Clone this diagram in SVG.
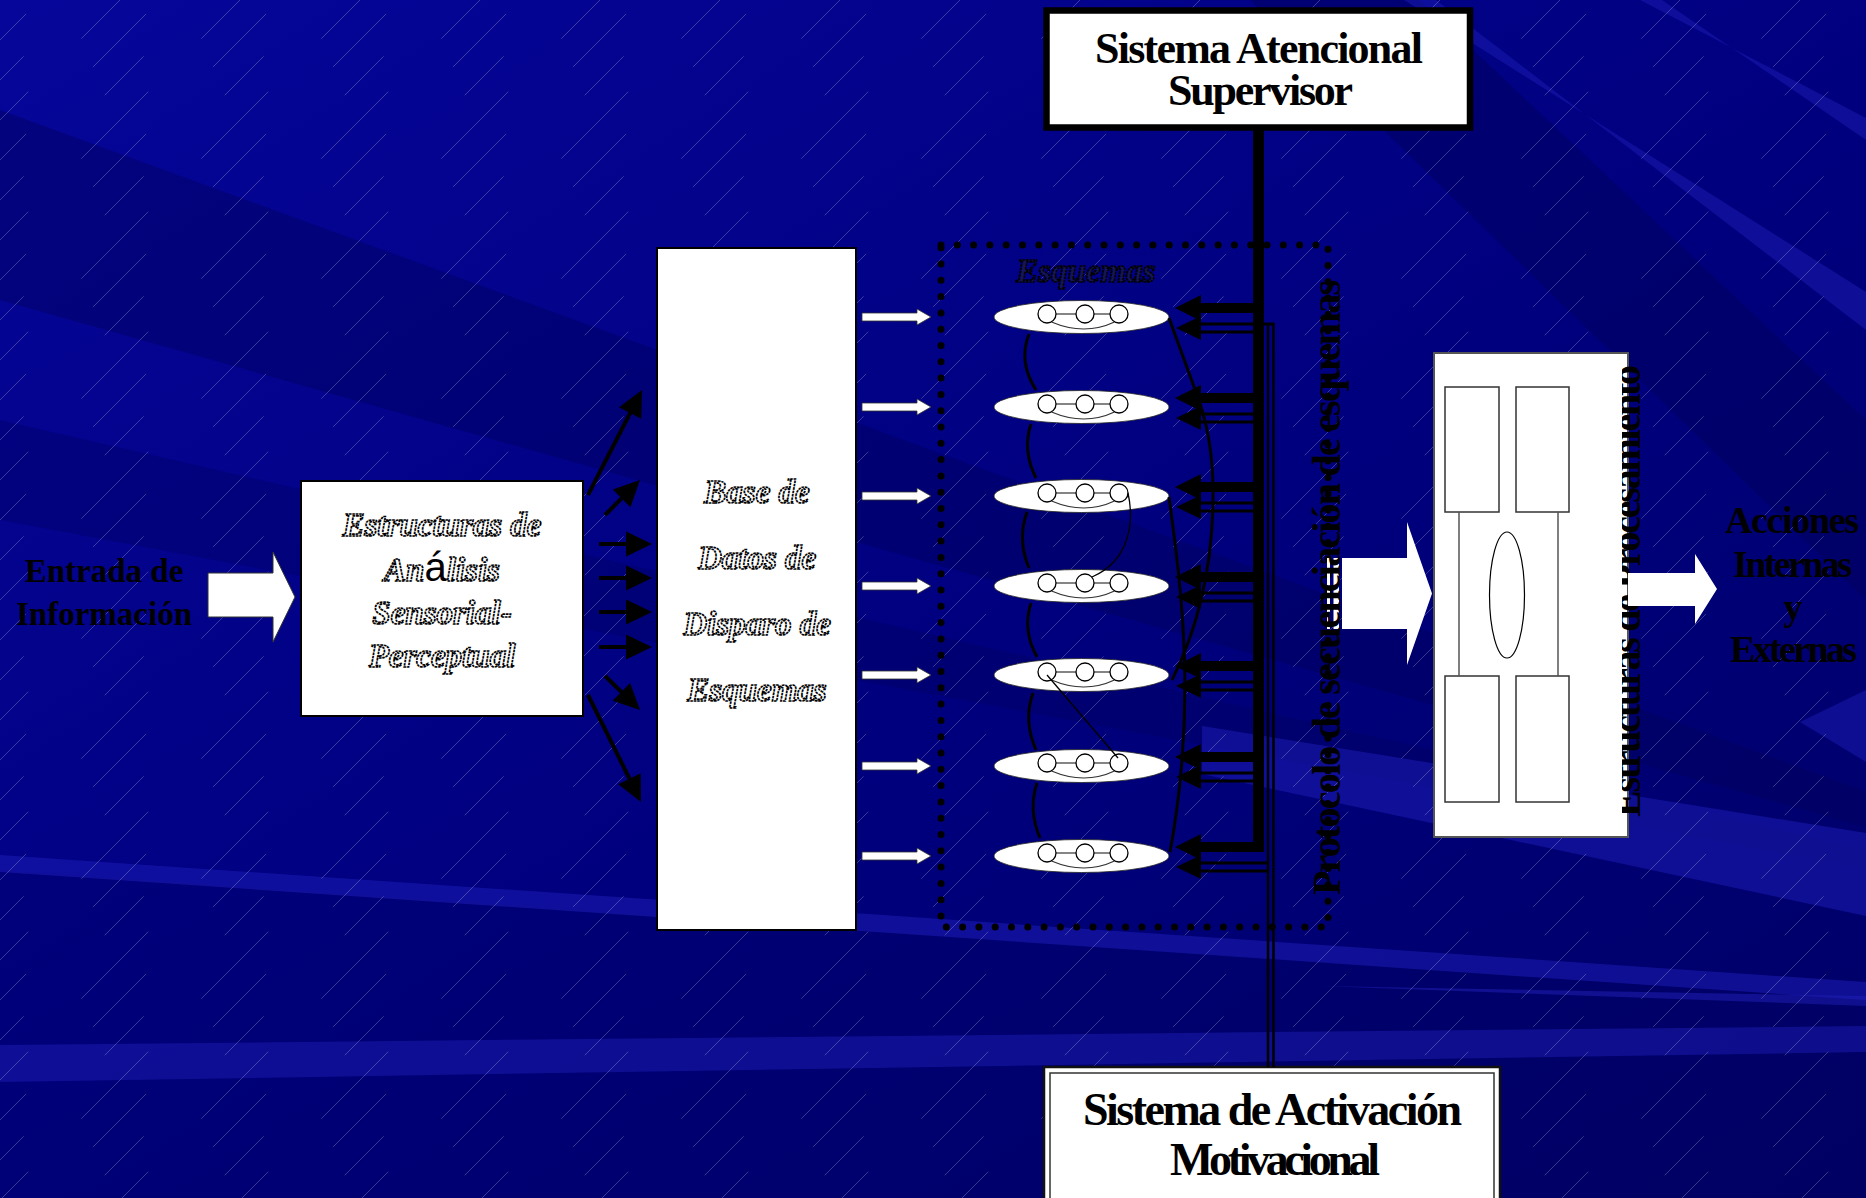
<svg xmlns="http://www.w3.org/2000/svg" width="1866" height="1198" viewBox="0 0 1866 1198">
<style>
.bold{font-family:"Liberation Serif","Times New Roman",serif;font-weight:bold;fill:#000}
.rope{font-family:"Liberation Serif","Times New Roman",serif;font-style:italic;font-weight:bold;font-size:33px;fill:#fff;stroke:#000;stroke-width:1.7;stroke-dasharray:2.6 0.8;text-anchor:middle}
.box{fill:#fff;stroke:#000;stroke-width:2}
.curve{fill:none;stroke:#000;stroke-width:3}
.thin{fill:none;stroke:#000;stroke-width:1.3}
.fan{fill:none;stroke:#000;stroke-width:4;marker-end:url(#ah)}
.warrow{fill:#fff;stroke:#333;stroke-width:0.8}
</style>
<defs>
<linearGradient id="bgGrad" x1="0" y1="0" x2="1" y2="1">
<stop offset="0" stop-color="#06069a"/>
<stop offset="0.55" stop-color="#00007e"/>
<stop offset="1" stop-color="#000066"/>
</linearGradient>
<pattern id="hatch" patternUnits="userSpaceOnUse" width="120" height="120">
<g stroke="#ffffff" stroke-width="1" stroke-opacity="0.22" fill="none">
<line x1="-120" y1="120" x2="0" y2="0" stroke-dasharray="40 85"/>
<line x1="-80" y1="120" x2="40" y2="0" stroke-dasharray="50 80" stroke-dashoffset="30"/>
<line x1="-40" y1="120" x2="80" y2="0" stroke-dasharray="35 90" stroke-dashoffset="70"/>
<line x1="0" y1="120" x2="120" y2="0" stroke-dasharray="55 75" stroke-dashoffset="15"/>
<line x1="40" y1="120" x2="160" y2="0" stroke-dasharray="40 85" stroke-dashoffset="50"/>
<line x1="80" y1="120" x2="200" y2="0" stroke-dasharray="45 80" stroke-dashoffset="90"/>
</g>
</pattern>
<marker id="ah" markerUnits="userSpaceOnUse" markerWidth="27" markerHeight="26" refX="1" refY="12.5" orient="auto" overflow="visible">
<path d="M0,0 L26,12.5 L0,25 z" fill="#000"/>
</marker>
<clipPath id="clipProc"><rect x="1622" y="300" width="60" height="600"/></clipPath>
<g id="esq">
<ellipse cx="0" cy="0" rx="87.5" ry="16.5" fill="#fff" stroke="#222" stroke-width="0.8"/>
<line x1="-25.5" y1="-3" x2="-5.5" y2="-3" stroke="#333" stroke-width="1.2"/>
<line x1="12.5" y1="-3" x2="28.5" y2="-3" stroke="#333" stroke-width="1.2"/>
<path d="M-30,5 Q3,19 33,5" fill="none" stroke="#333" stroke-width="1.2"/>
<circle cx="-34.5" cy="-3" r="9" fill="#fff" stroke="#000" stroke-width="1.3"/>
<circle cx="3.5" cy="-3" r="9" fill="#fff" stroke="#000" stroke-width="1.3"/>
<circle cx="37.5" cy="-3" r="9" fill="#fff" stroke="#000" stroke-width="1.3"/>
</g>
<g id="busPair">
<rect x="1199" y="-14" width="55" height="10" fill="#000"/>
<polygon points="1175,-9 1201,-22 1201,4" fill="#000"/>
<line x1="1199" y1="7" x2="1254" y2="7" stroke="#000" stroke-width="3"/>
<line x1="1199" y1="15" x2="1254" y2="15" stroke="#000" stroke-width="3"/>
<polygon points="1176,11 1201,-1 1201,23" fill="#000"/>
</g>
<polygon id="wArrow" points="862,-4 917,-4 917,-8 931,0 917,8 917,4 862,4"/>
</defs>

<g id="background">
<rect x="0" y="0" width="1866" height="1198" fill="url(#bgGrad)"/>
<polygon points="0,110 0,300 2300,950" fill="#00005a" opacity="0.4"/>
<polygon points="0,420 0,520 2300,950" fill="#00005a" opacity="0.3"/>
<polygon points="0,870 0,1198 1866,1198 1866,1000" fill="#00005a" opacity="0.25"/>
<polygon points="0,855 0,872 1866,1000 1866,982" fill="#1c1cb4" opacity="0.55"/>
<polygon points="0,1045 0,1082 1866,1052 1866,1026" fill="#1c1cb4" opacity="0.5"/>
<polygon points="1202,726 1866,833 1866,916 1202,774" fill="#1c1cb4" opacity="0.55"/>
<polygon points="1320,986 1866,996 1866,1006" fill="#2020b8" opacity="0.5"/>
<polygon points="1250,0 1420,0 1866,420 1866,600" fill="#00005a" opacity="0.45"/>
<polygon points="1404,0 1436,0 1866,330 1866,292" fill="#1c1cb4" opacity="0.5"/>
<polygon points="1640,0 1662,0 1866,140 1866,118" fill="#1c1cb4" opacity="0.5"/>
<polygon points="1866,690 1800,722 1866,762" fill="#1c1cb4" opacity="0.5"/>
<rect x="0" y="0" width="1866" height="1198" fill="url(#hatch)"/>
</g>

<g id="n-entrada">
<text class="bold" font-size="33" text-anchor="middle" x="104" y="582">Entrada de</text>
<text class="bold" font-size="33" text-anchor="middle" x="104" y="625">Información</text>
</g>

<g id="n-estructuras">
<rect class="box" x="301" y="481" width="282" height="235"/>
<text class="rope" x="442" y="536">Estructuras de</text>
<text class="rope" x="442" y="581">An<tspan style="font-family:'Liberation Sans',Arial,sans-serif;font-style:normal;font-weight:normal;font-size:40px;fill:#000;stroke:none">á</tspan>lisis</text>
<text class="rope" x="442" y="624">Sensorial-</text>
<text class="rope" x="442" y="667">Perceptual</text>
</g>

<g id="n-base">
<rect class="box" x="657" y="248" width="199" height="682"/>
<text class="rope" x="757" y="503">Base de</text>
<text class="rope" x="757" y="569">Datos de</text>
<text class="rope" x="757" y="635">Disparo de</text>
<text class="rope" x="757" y="701">Esquemas</text>
</g>

<g id="n-esquemas">
<rect x="941" y="245" width="387" height="682" fill="none" stroke="#000" stroke-width="7" stroke-dasharray="0 16.3" stroke-linecap="round"/>
<text class="rope" x="1086" y="282" style="fill:#15155a">Esquemas</text>
<use href="#esq" x="1081.5" y="317"/>
<use href="#esq" x="1081.5" y="407"/>
<use href="#esq" x="1081.5" y="496"/>
<use href="#esq" x="1081.5" y="586"/>
<use href="#esq" x="1081.5" y="675"/>
<use href="#esq" x="1081.5" y="766"/>
<use href="#esq" x="1081.5" y="856"/>
</g>

<g id="n-sas">
<rect x="1046.5" y="10.5" width="423.5" height="117" fill="#fff" stroke="#000" stroke-width="6.5"/>
<text class="bold" font-size="44" x="1095" y="63" textLength="328">Sistema Atencional</text>
<text class="bold" font-size="44" x="1168" y="105" textLength="185">Supervisor</text>
</g>

<g id="n-sam">
<rect x="1044" y="1067" width="456" height="150" fill="#fff" stroke="#111" stroke-width="2.5"/>
<rect x="1050" y="1073" width="444" height="150" fill="none" stroke="#333" stroke-width="1.5"/>
<text class="bold" font-size="46" x="1083" y="1125" textLength="379">Sistema de Activación</text>
<text class="bold" font-size="46" x="1170" y="1175" textLength="210">Motivacional</text>
</g>

<g id="n-procesamiento">
<rect x="1434" y="353" width="194" height="484" fill="#fff" stroke="#555" stroke-width="2"/>
<g fill="#fff" stroke="#333" stroke-width="1.5">
<rect x="1445" y="387" width="54" height="125"/>
<rect x="1516" y="387" width="53" height="125"/>
<rect x="1445" y="676" width="54" height="126"/>
<rect x="1516" y="676" width="53" height="126"/>
</g>
<line x1="1459" y1="512" x2="1459" y2="676" stroke="#555" stroke-width="1.5"/>
<line x1="1558" y1="512" x2="1558" y2="676" stroke="#555" stroke-width="1.5"/>
<ellipse cx="1507" cy="595" rx="17.5" ry="63" fill="#fff" stroke="#000" stroke-width="1.2"/>
<g clip-path="url(#clipProc)">
<text class="bold" font-size="40" transform="translate(1640,817) rotate(-90)" textLength="452">Estructuras de Procesamiento</text>
</g>
</g>

<g id="n-acciones">
<text class="bold" font-size="38" x="1725" y="533" textLength="134">Acciones</text>
<text class="bold" font-size="38" x="1733" y="577" textLength="119">Internas</text>
<text class="bold" font-size="38" x="1793" y="620" text-anchor="middle">y</text>
<text class="bold" font-size="38" x="1730" y="662" textLength="127">Externas</text>
</g>

<g id="connectors">
<polygon points="208,573 273,573 273,552 295,597 273,642 273,617 208,617" fill="#fff" stroke="#333" stroke-width="1"/>
<path class="fan" d="M588,495 L630.6,412.2"/>
<path class="fan" d="M605,515 L622.3,497.7"/>
<path class="fan" d="M599,544 L627,544"/>
<path class="fan" d="M599,578 L627,578"/>
<path class="fan" d="M599,612 L627,612"/>
<path class="fan" d="M599,647 L627,647"/>
<path class="fan" d="M605,676 L622.1,692.6"/>
<path class="fan" d="M588,695 L629.9,779.6"/>
<g class="warrow">
<use href="#wArrow" y="317"/>
<use href="#wArrow" y="407"/>
<use href="#wArrow" y="496"/>
<use href="#wArrow" y="586"/>
<use href="#wArrow" y="675"/>
<use href="#wArrow" y="766"/>
<use href="#wArrow" y="856"/>
</g>
<path class="curve" d="M1029,334 Q1018,362 1036,390"/>
<path class="curve" d="M1031,424 Q1022,450 1036,478"/>
<path class="curve" d="M1027,512 Q1017,540 1029,568"/>
<path class="curve" d="M1031,603 Q1022,630 1037,657"/>
<path class="curve" d="M1033,693 Q1023,720 1036,750"/>
<path class="curve" d="M1037,783 Q1028,810 1040,838"/>
<path class="curve" d="M1169,318 L1197,395 Q1214,440 1213,500 Q1212,600 1172,680"/>
<path class="curve" d="M1169,497 C1180,580 1198,700 1170,852"/>
<path class="thin" d="M1128,493 C1134,520 1131,560 1092,577"/>
<path class="thin" d="M1047,675 L1118,758"/>
<rect x="1253" y="127" width="11" height="725" fill="#000"/>
<line x1="1268" y1="323" x2="1268" y2="1067" stroke="#000" stroke-width="2.5"/>
<line x1="1273.5" y1="323" x2="1273.5" y2="1067" stroke="#000" stroke-width="2.5"/>
<line x1="1254" y1="324" x2="1274" y2="324" stroke="#000" stroke-width="3"/>
<line x1="1254" y1="863" x2="1268" y2="863" stroke="#000" stroke-width="3"/>
<line x1="1254" y1="871" x2="1268" y2="871" stroke="#000" stroke-width="3"/>
<use href="#busPair" y="317"/>
<use href="#busPair" y="407"/>
<use href="#busPair" y="496"/>
<use href="#busPair" y="586"/>
<use href="#busPair" y="675"/>
<use href="#busPair" y="766"/>
<use href="#busPair" y="856"/>
<g fill="#fff">
<rect x="1327" y="558" width="3" height="71"/>
<rect x="1333.5" y="558" width="5.5" height="71"/>
<polygon points="1342,558 1407,558 1407,522 1432,593.5 1407,665 1407,629 1342,629"/>
</g>
<polygon points="1628,573 1695,573 1695,554 1717,589 1695,624 1695,606 1628,606" fill="#fff"/>
</g>

<g id="n-protocolo">
<text class="bold" font-size="40" transform="translate(1340,895) rotate(-90)" textLength="615">Protocolo de secuenciación de esquemas</text>
</g>
</svg>
